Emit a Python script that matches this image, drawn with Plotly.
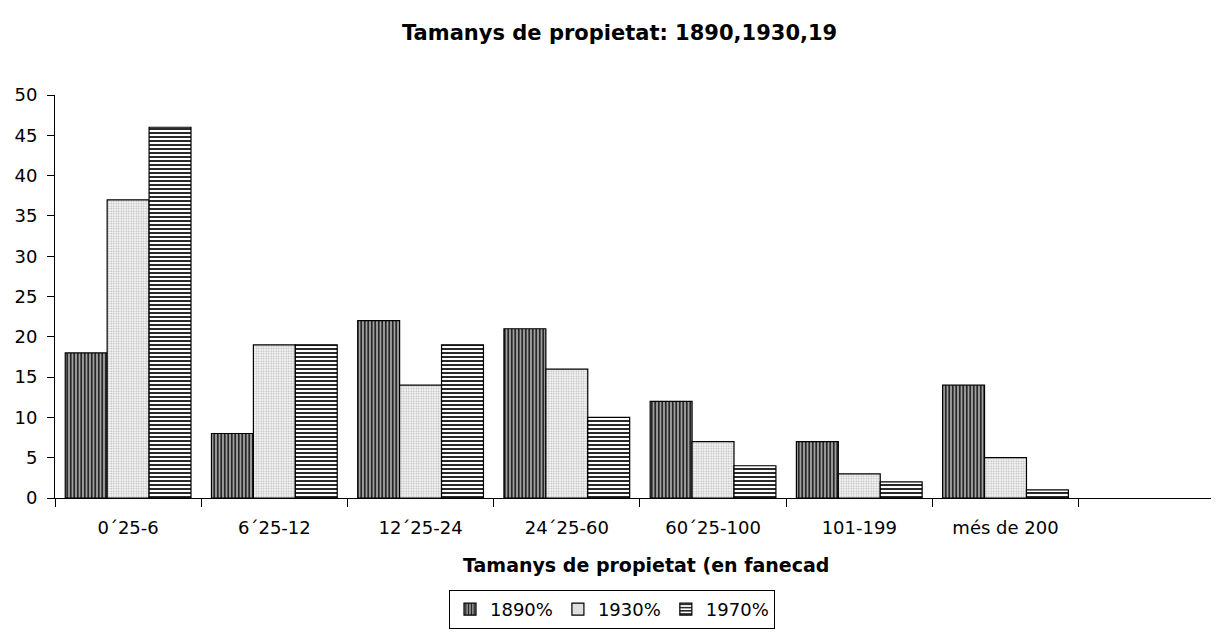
import plotly.graph_objects as go

categories = ["0´25-6", "6´25-12", "12´25-24", "24´25-60", "60´25-100", "101-199", "més de 200"]
series_names = ["1890%", "1930%", "1970%"]
v1890 = [18, 8, 22, 21, 12, 7, 14]
v1930 = [37, 19, 14, 16, 7, 3, 5]
v1970 = [46, 19, 19, 10, 4, 2, 1]

W, H = 1219, 643
OFF = 8  # page body margin
FONT = "DejaVu Sans, Liberation Sans, Arial, sans-serif"

PLOT_L, PLOT_T, PLOT_B = 55, 95, 498  # screen pixel targets
PLOT_R = 1219

styles = [
    dict(color="#8a8a8a", pattern=dict(shape="|", fgcolor="#1a1a1a", bgcolor="#a0a0a0", size=3.5, solidity=0.45, fillmode="replace")),
    dict(color="#f2f2f2", pattern=dict(shape=".", fgcolor="#b5b5b5", bgcolor="#f7f7f7", size=2.5, solidity=0.35, fillmode="replace")),
    dict(color="#ffffff", pattern=dict(shape="-", fgcolor="#2a2a2a", bgcolor="#ffffff", size=4, solidity=0.5, fillmode="replace")),
]

fig = go.Figure()
for name, vals, st in zip(series_names, [v1890, v1930, v1970], styles):
    fig.add_trace(go.Bar(
        x=categories, y=vals, name=name,
        marker=dict(color=st["color"], pattern=st["pattern"], line=dict(color="#000000", width=1.2)),
    ))

plot_h = PLOT_B - PLOT_T
plot_w = PLOT_R - PLOT_L


def py(screen_y):
    return (PLOT_B - screen_y) / plot_h


def px(screen_x):
    return (screen_x - PLOT_L) / plot_w


fig.update_layout(
    width=W, height=H,
    paper_bgcolor="white", plot_bgcolor="white",
    margin=dict(l=PLOT_L - OFF, r=W - (PLOT_R - OFF), t=PLOT_T - OFF, b=H - (PLOT_B - OFF), autoexpand=False),
    barmode="group", bargap=0.14, bargroupgap=0,
    font=dict(family=FONT, size=18, color="#000000"),
    showlegend=True,
    legend=dict(
        orientation="h", xref="container", yref="container",
        x=(449 - OFF) / W, y=1 - (590 - OFF) / H, xanchor="left", yanchor="top",
        bordercolor="#000000", borderwidth=1, bgcolor="white",
        font=dict(family=FONT, size=18), itemwidth=30,
    ),
    annotations=[
        dict(text="<b>Tamanys de propietat: 1890,1930,19</b>", xref="paper", yref="paper",
             x=px(400), y=py(33), showarrow=False,
             xanchor="left", yanchor="middle", font=dict(family=FONT, size=21)),
        dict(text="<b>Tamanys de propietat (en fanecad</b>", xref="paper", yref="paper",
             x=px(461), y=py(565), showarrow=False,
             xanchor="left", yanchor="middle", font=dict(family=FONT, size=19)),
    ],
)

fig.update_xaxes(
    type="category", range=[-0.5, 7.46],
    showline=True, linecolor="#000000", linewidth=1,
    ticks="outside", ticklen=8, tickcolor="#000000", tickson="boundaries",
    ticklabelstandoff=13, showgrid=False, zeroline=False,
    tickfont=dict(family=FONT, size=18),
)
fig.update_yaxes(
    range=[0, 50], dtick=5, tick0=0,
    showline=True, linecolor="#000000", linewidth=1,
    ticks="outside", ticklen=7, tickcolor="#000000",
    ticklabelstandoff=6, showgrid=False, zeroline=False,
    tickfont=dict(family=FONT, size=18),
)

fig.write_html("out.html")
